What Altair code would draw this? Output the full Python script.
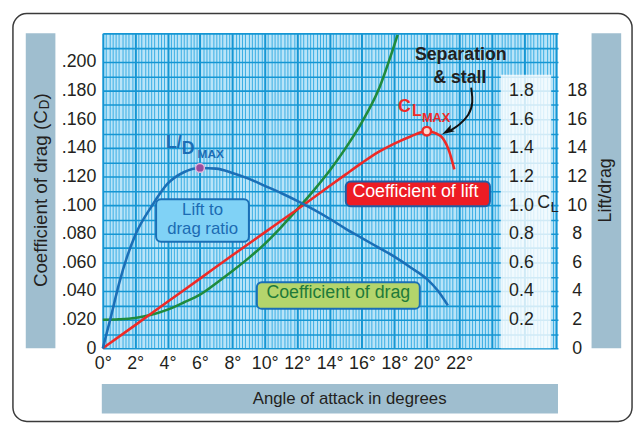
import altair as alt
import pandas as pd

# ---------------- data ----------------
cd_angle = [0, 1, 2, 3, 4, 5, 6, 7, 8, 9, 10, 11, 12, 13, 14, 15, 16, 17, 18, 18.2]
cd_value = [0.020, 0.0203, 0.0212, 0.0234, 0.027, 0.032, 0.0375, 0.0455, 0.054, 0.063,
            0.073, 0.0845, 0.097, 0.110, 0.124, 0.140, 0.158, 0.180, 0.212, 0.219]

cl_angle = [0, 2, 4, 6, 8, 10, 12, 14, 15, 16, 17, 18, 19, 20, 20.5, 21, 21.4, 21.7]
cl_value = [0, 0.162, 0.325, 0.487, 0.65, 0.81, 0.97, 1.134, 1.215, 1.295, 1.37, 1.43,
            1.48, 1.517, 1.505, 1.465, 1.37, 1.25]

ld_angle = [0, 0.5, 1, 1.5, 2, 3, 4, 5, 6, 7, 8, 9, 10, 11, 12, 13, 14, 15, 16, 17,
            18, 19, 20, 20.7, 21.3]
ld_value = [0, 2.2, 4.5, 6.4, 7.9, 9.9, 11.5, 12.3, 12.6, 12.55, 12.25, 11.85, 11.35,
            10.85, 10.3, 9.7, 9.05, 8.35, 7.7, 7.05, 6.4, 5.65, 4.85, 4.0, 3.0]

ld_max = {"angle": [6], "ld": [12.6]}
cl_max = {"angle": [20], "cl": [1.517]}

x_tick_labels = list(range(0, 24, 2))
cd_tick_labels = [0, 0.02, 0.04, 0.06, 0.08, 0.10, 0.12, 0.14, 0.16, 0.18, 0.20]
cl_tick_labels = [0.2, 0.4, 0.6, 0.8, 1.0, 1.2, 1.4, 1.6, 1.8]
ld_tick_labels = [0, 2, 4, 6, 8, 10, 12, 14, 16, 18]

# ---------------- annotation layout (data units: angle, CD) ----------------
boxes = pd.DataFrame({
    "a1": [3.29, 9.51, 15.0], "a2": [9.02, 19.57, 23.9],
    "c1": [0.0745, 0.0276, 0.0993], "c2": [0.1041, 0.0462, 0.1166],
    "fill": ["#80d2f6", "#b4d56c", "#ed1c24"],
    "stroke": ["#1a6fb6", "#1a6fb6", "#1d5fa6"],
})
wedges = pd.DataFrame({
    "w": [1, 1, 2, 2, 3, 3, 3],
    "a": [2.13, 3.41, 7.68, 9.70, 16.34, 16.65, 17.38],
    "top": [0.0814, 0.0945, 0.0497, 0.0455, 0.1262, 0.1231, 0.1159],
    "bot": [0.0814, 0.0828, 0.0497, 0.0372, 0.1262, 0.1159, 0.1159],
    "col": ["#1a6fb6", "#1a6fb6", "#1a6fb6", "#1a6fb6", "#1d5fa6", "#1d5fa6", "#1d5fa6"],
})
box_text = pd.DataFrame({
    "a": [6.16, 6.16, 14.54, 19.3],
    "c": [0.0966, 0.0834, 0.0386, 0.1093],
    "t": ["Lift to", "drag ratio", "Coefficient of drag", "Coefficient of lift"],
    "col": ["#1b6bb3", "#1b6bb3", "#1f7a3a", "#ffffff"],
    "fs": [17, 17, 18, 18],
})
sep_text = pd.DataFrame({"a": [22.1, 22.04], "c": [0.2045, 0.1886],
                         "t": ["Separation", "& stall"]})
arrow = pd.DataFrame({"i": [0, 1, 2, 3, 4],
                      "a": [22.74, 22.87, 22.62, 22.01, 21.40],
                      "c": [0.1821, 0.1717, 0.1628, 0.1559, 0.1517]})
arrow_head = pd.DataFrame({"a": [21.28], "c": [0.1517]})
pale = pd.DataFrame({"a1": [24.57], "a2": [27.68], "c1": [0.0], "c2": [0.191]})

FONT = "Liberation Sans"
BLUE = "#1b6fb7"
GREEN = "#1f8b3d"
RED = "#ee2a27"
BAND = "#9fbecf"
INK = "#231f20"

x_scale = alt.Scale(domain=[0, 28.1], nice=False)
cd_scale = alt.Scale(domain=[0, 0.22], nice=False)
cl_scale = alt.Scale(domain=[0, 2.2], nice=False)
ld_scale = alt.Scale(domain=[0, 22], nice=False)

x_grid_values = [round(i * 0.2, 1) for i in range(141)]
y_grid_values = [round(i * 0.01, 2) for i in range(23)]

x_axis = alt.Axis(
    values=x_grid_values, title=None, grid=True, orient="bottom",
    gridColor={"condition": {"test": "datum.value % 2 === 0", "value": "#1596d3"}, "value": "#3aaee4"},
    gridWidth={"condition": {"test": "datum.value % 2 === 0", "value": 2}, "value": 1},
    labelExpr="indexof(" + str(x_tick_labels) + ", datum.value) >= 0 ? datum.value + '\u00b0' : ''",
    ticks=False, tickSize=0, domain=False, labelOverlap=False, labelFlush=False,
    labelFontSize=18, labelColor=INK, labelFont=FONT, labelPadding=6,
)
y_axis = alt.Axis(
    orient="left", values=y_grid_values, title=None, grid=True,
    gridColor="#1596d3", gridWidth=1.6,
    labelExpr="indexof(" + str(cd_tick_labels) + ", datum.value) >= 0 ? (datum.value === 0 ? '0' : replace(format(datum.value, '.3f'), '0.', '.')) : ''",
    ticks=False, tickSize=0, domain=False, labelOverlap=False, labelFlush=False,
    labelFontSize=18, labelColor=INK, labelFont=FONT, labelPadding=7,
)
cl_axis = alt.Axis(
    orient="right", offset=-52, values=cl_tick_labels, format=".1f", title=None,
    grid=False, ticks=False, tickSize=0, domain=False, labelFontSize=18,
    labelColor=INK, labelFont=FONT, labelPadding=2, labelAlign="left", zindex=1,
    labelOverlap=False, labelFlush=False,
)
ld_axis = alt.Axis(
    orient="right", values=ld_tick_labels, format="d", title=None,
    grid=False, ticks=False, tickSize=0, domain=False, labelFontSize=18,
    labelColor=INK, labelFont=FONT, labelPadding=19, labelAlign="center",
    labelOverlap=False, labelFlush=False,
)


def X(field):
    # every x encoding shares one identical axis definition so that the layers merge
    return alt.X(field, scale=x_scale, axis=x_axis)


one = pd.DataFrame({"k": [0]})


def px_rect(x, x2, y, y2, **kw):
    return alt.Chart(one).mark_rect(**kw).encode(
        x=alt.value(x), x2=alt.value(x2), y=alt.value(y), y2=alt.value(y2))


def px_text(x, y, txt, **kw):
    return alt.Chart(one).mark_text(font=FONT, baseline="middle", **kw).encode(
        x=alt.value(x), y=alt.value(y), text=alt.value(txt))


def ann_text(df, **kw):
    enc = dict(x=X("a:Q"), y=alt.Y("c:Q", scale=cd_scale, axis=None), text="t:N")
    if "col" in df.columns:
        enc["color"] = alt.Color("col:N", scale=None)
    if "fs" in df.columns:
        enc["size"] = alt.Size("fs:Q", scale=None)
    return alt.Chart(df).mark_text(font=FONT, baseline="middle", **kw).encode(**enc)


def one_text(a, c, txt, **kw):
    return ann_text(pd.DataFrame({"a": [a], "c": [c], "t": [txt]}), **kw)


# ---------------- group 1: frame, bands, grid, drag curve ----------------
border = px_rect(-91, 536, -20, 393, fill="white", fillOpacity=0, stroke="#3a3a3a",
                 strokeWidth=1.5, cornerRadius=14)
band_left = px_rect(-78, -48, 0, 319, color=BAND)
band_right = px_rect(495, 525, 0, 319, color=BAND)
band_bottom = px_rect(-1, 461, 355, 385, color=BAND)
title_left1 = px_text(-63, 257, "Coefficient of drag (C", angle=270, align="left",
                      fontSize=19, color=INK)
title_left2 = px_text(-58, 77, "D", angle=270, align="left", fontSize=14, color=INK)
title_left3 = px_text(-63, 67, ")", angle=270, align="left", fontSize=19, color=INK)
title_right = px_text(510, 159, "Lift/drag", angle=270, align="center", fontSize=18, color=INK)
title_bottom = px_text(250, 370, "Angle of attack in degrees", align="center",
                       fontSize=17, color=INK)

green = alt.Chart(pd.DataFrame({"angle": cd_angle, "cd": cd_value})).mark_line(
    color=GREEN, strokeWidth=2.6, interpolate="monotone").encode(
    x=X("angle:Q"), y=alt.Y("cd:Q", scale=cd_scale, axis=y_axis))

pale_rect = alt.Chart(pale).mark_rect(color="white", opacity=0.8).encode(
    x=X("a1:Q"), x2="a2", y=alt.Y("c1:Q", scale=cd_scale, axis=y_axis), y2="c2")

g1 = alt.layer(border, band_left, band_right, band_bottom, title_left1, title_left2,
               title_left3, title_right, title_bottom, green, pale_rect)

# ---------------- group 2: lift coefficient ----------------
red = alt.Chart(pd.DataFrame({"angle": cl_angle, "cl": cl_value})).mark_line(
    color=RED, strokeWidth=2.6, interpolate="monotone").encode(
    x=X("angle:Q"), y=alt.Y("cl:Q", scale=cl_scale, axis=cl_axis))
red_pt = alt.Chart(pd.DataFrame(cl_max)).mark_point(
    filled=True, fill="#fcd8d0", stroke=RED, strokeWidth=2.5, size=75, opacity=1).encode(
    x=X("angle:Q"), y=alt.Y("cl:Q", scale=cl_scale, axis=cl_axis))
g2 = alt.layer(red, red_pt)

# ---------------- group 3: lift / drag ----------------
blue = alt.Chart(pd.DataFrame({"angle": ld_angle, "ld": ld_value})).mark_line(
    color=BLUE, strokeWidth=2.6, interpolate="monotone").encode(
    x=X("angle:Q"), y=alt.Y("ld:Q", scale=ld_scale, axis=ld_axis))
blue_pt = alt.Chart(pd.DataFrame(ld_max)).mark_point(
    filled=True, fill="#9a4c9e", stroke="#dcb6dc", strokeWidth=1.5, size=80, opacity=1).encode(
    x=X("angle:Q"), y=alt.Y("ld:Q", scale=ld_scale, axis=ld_axis))
g3 = alt.layer(blue, blue_pt)

# ---------------- group 4: callouts and labels ----------------
wedge_layer = alt.Chart(wedges).mark_area(interpolate="linear", opacity=1).encode(
    x=X("a:Q"), y=alt.Y("top:Q", scale=cd_scale, axis=None), y2="bot:Q",
    detail="w:N", color=alt.Color("col:N", scale=None), order="a:Q")
box_layer = alt.Chart(boxes).mark_rect(cornerRadius=5, strokeWidth=2).encode(
    x=X("a1:Q"), x2="a2", y=alt.Y("c1:Q", scale=cd_scale, axis=None), y2="c2",
    fill=alt.Fill("fill:N", scale=None), stroke=alt.Stroke("stroke:N", scale=None))
box_labels = ann_text(box_text, align="center")
sep_labels = ann_text(sep_text, fontSize=18, fontWeight="bold", align="center", color=INK)
arrow_line = alt.Chart(arrow).mark_line(color="#111111", strokeWidth=2, interpolate="basis").encode(
    x=X("a:Q"), y=alt.Y("c:Q", scale=cd_scale, axis=None), order="i:Q")
arrow_tip = alt.Chart(arrow_head).mark_point(
    shape="M0,-1L0.62,1L0,0.55L-0.62,1Z", angle=240, filled=True, color="#111111",
    size=160, opacity=1).encode(
    x=X("a:Q"), y=alt.Y("c:Q", scale=cd_scale, axis=None))
clmax_c = one_text(18.23, 0.1686, "C", fontSize=18, fontWeight="bold", align="left", color=RED)
clmax_l = one_text(19.09, 0.1659, "L", fontSize=16, fontWeight="bold", align="left", color=RED)
clmax_m = one_text(19.70, 0.1607, "MAX", fontSize=13, fontWeight="bold", align="left", color=RED)
ldmax_l = one_text(3.90, 0.1434, "L/", fontSize=18, fontWeight="bold", align="left", color="#1b6db5")
ldmax_d = one_text(4.88, 0.1390, "D", fontSize=18, fontWeight="bold", align="left", color="#1b6db5")
ldmax_m = one_text(5.85, 0.1359, "MAX", fontSize=12, fontWeight="bold", align="left", color="#1b6db5")
cl_c = one_text(26.82, 0.1014, "C", fontSize=18, align="left", color=INK)
cl_l = one_text(27.64, 0.0986, "L", fontSize=15, align="left", color=INK)

g4 = alt.layer(wedge_layer, box_layer, box_labels, sep_labels, arrow_line, arrow_tip,
               clmax_c, clmax_l, clmax_m, ldmax_l, ldmax_d, ldmax_m, cl_c, cl_l)

chart = alt.layer(g1, g2, g3, g4).resolve_scale(y="independent").properties(
    width=461, height=319,
    autosize=alt.AutoSizeParams(type="none"),
    padding={"left": 96, "top": 23, "right": 78, "bottom": 77},
).configure_view(fill="#b9e4f8", stroke=None)

chart.save("out.html", embed_options={"renderer": "svg", "actions": False})
